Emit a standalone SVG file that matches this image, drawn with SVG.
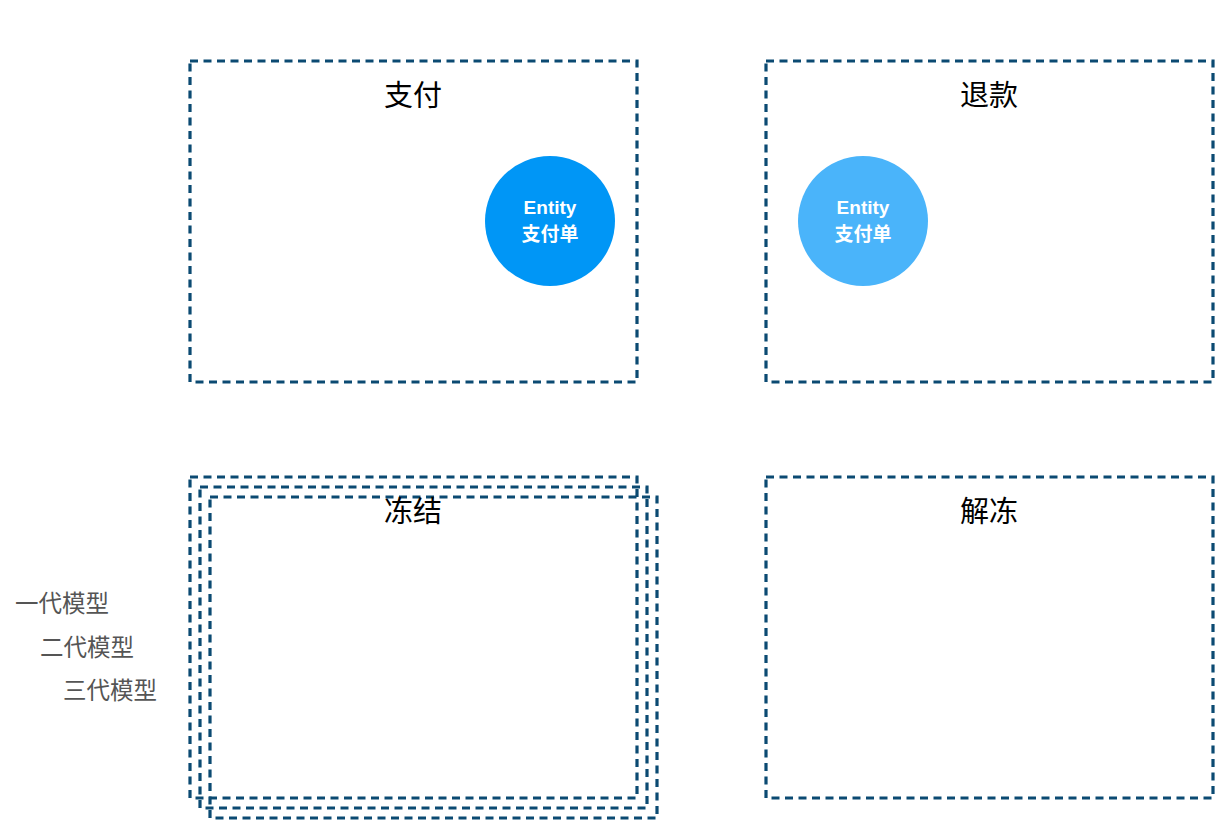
<svg xmlns="http://www.w3.org/2000/svg" width="1231" height="833" viewBox="0 0 1231 833">
<style>
.box{fill:none;stroke:#0b4a72;stroke-width:3.2;stroke-dasharray:8 5.5}
.title{font-family:"Noto Sans CJK SC","Liberation Sans",sans-serif;font-size:29px;fill:#000;text-anchor:middle}
.ent{font-family:"Liberation Sans","Noto Sans CJK SC",sans-serif;font-size:19px;font-weight:bold;fill:#fff;text-anchor:middle}
.lab{font-family:"Noto Sans CJK SC","Liberation Sans",sans-serif;font-size:23.5px;fill:#555}
</style>
<rect width="1231" height="833" fill="#fff"/>
<g id="pay">
<rect class="box" x="190" y="61" width="447" height="321"/>
<text class="title" x="413" y="106">支付</text>
</g>
<g id="refund">
<rect class="box" x="766" y="61" width="447" height="321"/>
<text class="title" x="989" y="106">退款</text>
</g>
<g id="freeze">
<rect class="box" x="190" y="477" width="447" height="321"/>
<rect class="box" x="200" y="487" width="447" height="321"/>
<rect class="box" x="210" y="497" width="447" height="321"/>
<text class="title" x="413" y="522">冻结</text>
</g>
<g id="unfreeze">
<rect class="box" x="766" y="477" width="447" height="321"/>
<text class="title" x="989" y="522">解冻</text>
</g>
<g id="entity-pay">
<circle cx="550" cy="221" r="65" fill="#0096f6"/>
<text class="ent" x="550" y="214">Entity</text>
<text class="ent" x="550" y="241">支付单</text>
</g>
<g id="entity-refund">
<circle cx="863" cy="221" r="65" fill="#4ab4fa"/>
<text class="ent" x="863" y="214">Entity</text>
<text class="ent" x="863" y="241">支付单</text>
</g>
<g id="legend">
<text class="lab" x="15" y="612">一代模型</text>
<text class="lab" x="40" y="656">二代模型</text>
<text class="lab" x="63" y="699">三代模型</text>
</g>
<g id="connectors"></g>
</svg>
